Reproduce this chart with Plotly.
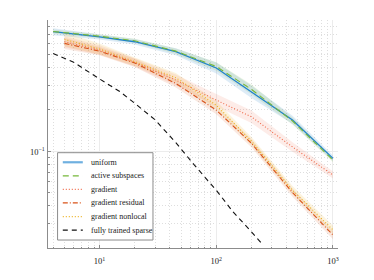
import math
import plotly.graph_objects as go

# ---- data ----
x_main = [4, 10, 20, 45, 100, 200, 450, 1000]
uniform = [0.733, 0.673, 0.62, 0.525, 0.40, 0.269, 0.168, 0.0885]
uniform_sd = [0.025, 0.02, 0.02, 0.025, 0.04, 0.045, 0.03, 0.02]
active = [0.735, 0.68, 0.63, 0.53, 0.41, 0.28, 0.165, 0.086]
active_sd = [0.015, 0.015, 0.015, 0.02, 0.03, 0.035, 0.025, 0.015]

x_grad = [5, 10, 20, 45, 100, 200, 450, 1000]
gradient = [0.62, 0.54, 0.44, 0.327, 0.234, 0.177, 0.107, 0.067]
gradient_sd = [0.04, 0.035, 0.03, 0.04, 0.045, 0.045, 0.035, 0.025]
residual = [0.603, 0.53, 0.435, 0.309, 0.198, 0.114, 0.050, 0.0246]
residual_sd = [0.04, 0.03, 0.03, 0.03, 0.03, 0.03, 0.03, 0.03]
nonlocal_ = [0.644, 0.55, 0.445, 0.34, 0.215, 0.118, 0.052, 0.0268]
nonlocal_sd = [0.05, 0.04, 0.03, 0.035, 0.03, 0.03, 0.03, 0.03]

x_sparse = [4, 6, 10, 15, 20, 30, 45, 65, 100, 140, 200, 250]
sparse = [0.51, 0.44, 0.333, 0.269, 0.222, 0.168, 0.115, 0.079, 0.052, 0.036, 0.026, 0.021]

x_ticks = [10, 100, 1000]
x_ticklabels = ["10<sup>1</sup>", "10<sup>2</sup>", "10<sup>3</sup>"]
y_ticks = [0.1]
y_ticklabels = ["10<sup>\u22121</sup>"]

FONT = "Liberation Serif"

series = [
    ("uniform", x_main, uniform, uniform_sd, "#1f82cc", "solid", 1.3, "rgba(31,130,204,0.15)"),
    ("active subspaces", x_main, active, active_sd, "#76b83a", "6px,4px", 1.1, "rgba(118,184,58,0.15)"),
    ("gradient", x_grad, gradient, gradient_sd, "#f06a4a", "1px,2px", 1.1, "rgba(240,106,74,0.13)"),
    ("gradient residual", x_grad, residual, residual_sd, "#D95319", "5px,2px,1px,2px", 1.1, "rgba(217,83,25,0.13)"),
    ("gradient nonlocal", x_grad, nonlocal_, nonlocal_sd, "#EDB120", "1px,2px", 1.1, "rgba(237,177,32,0.15)"),
]
sparse_style = ("fully trained sparse", "#111111", "5px,4px", 1.1)

fig = go.Figure()

# bands first
for name, xs, ys, sd, col, dash, w, fillcol in series:
    up = [v * 10 ** s for v, s in zip(ys, sd)]
    lo = [v * 10 ** (-s) for v, s in zip(ys, sd)]
    fig.add_trace(go.Scatter(x=xs + xs[::-1], y=up + lo[::-1], fill="toself",
                             fillcolor=fillcol, line=dict(width=0), mode="lines",
                             showlegend=False, hoverinfo="skip"))

for name, xs, ys, sd, col, dash, w, fillcol in series:
    fig.add_trace(go.Scatter(x=xs, y=ys, mode="lines", name=name, showlegend=False,
                             line=dict(color=col, dash=dash, width=w)))

fig.add_trace(go.Scatter(x=x_sparse, y=sparse, mode="lines", name=sparse_style[0],
                         showlegend=False,
                         line=dict(color=sparse_style[1], dash=sparse_style[2],
                                   width=sparse_style[3])))

# ---- compact legend box (paper coordinates) ----
leg_entries = [(s[0], s[4], s[5], s[6]) for s in series] + [sparse_style]
box_x0, box_x1, box_y0, box_y1 = 0.033, 0.362, 0.035, 0.418
row_top, row_step = 0.376, 0.0595
line_x0, line_x1, text_x = 0.051, 0.12, 0.142

shapes = [dict(type="rect", xref="paper", yref="paper", x0=box_x0, x1=box_x1,
               y0=box_y0, y1=box_y1, fillcolor="white",
               line=dict(color="#8c8c8c", width=1), layer="above")]
annotations = []
for i, (name, col, dash, w) in enumerate(leg_entries):
    yy = row_top - i * row_step
    lw = 2.2 if i == 0 else w + 0.2
    lc = "#6fb0e0" if i == 0 else col
    shapes.append(dict(type="line", xref="paper", yref="paper", x0=line_x0, x1=line_x1,
                       y0=yy, y1=yy, line=dict(color=lc, dash=dash, width=lw),
                       layer="above"))
    annotations.append(dict(xref="paper", yref="paper", x=text_x, y=yy, text=name,
                            showarrow=False, xanchor="left", yanchor="middle",
                            font=dict(family=FONT, size=8, color="#222")))

# y tick label(s) as annotations placed at the tick value
for tv, tt in zip(y_ticks, y_ticklabels):
    annotations.append(dict(xref="paper", yref="y", x=0, y=math.log10(tv), text=tt,
                            showarrow=False, xanchor="right", yanchor="middle",
                            xshift=-1, font=dict(family=FONT, size=8.5, color="#222")))

axis_common = dict(
    type="log", showline=True, linecolor="#8c8c8c", linewidth=1,
    showgrid=True, gridcolor="#ececec", gridwidth=1,
    ticks="inside", ticklen=3, tickcolor="#8c8c8c", tickwidth=0.8,
    zeroline=False, tickfont=dict(family=FONT, size=8.5, color="#222"),
    minor=dict(dtick="D1", showgrid=True, gridcolor="#dedede", griddash="1px,2px",
               gridwidth=0.7, ticks="inside", ticklen=1.5, tickcolor="#8c8c8c"),
    mirror=False,
)

# page body has an 8px default margin: figure sized/offset so the plot area
# sits at the same window position as the reference
fig.update_layout(
    width=366, height=272,
    margin=dict(l=40, r=36, t=12, b=32),
    paper_bgcolor="white", plot_bgcolor="white",
    font=dict(family=FONT, size=8, color="#222"),
    showlegend=False,
    shapes=shapes, annotations=annotations,
)
fig.update_xaxes(**axis_common, range=[0.558, 3.043], dtick=1,
                 tickmode="array", tickvals=x_ticks, ticktext=x_ticklabels,
                 ticklabelstandoff=5)
fig.update_yaxes(**axis_common, range=[-1.703, -0.05], dtick=1,
                 tickmode="array", tickvals=y_ticks, ticktext=["" for _ in y_ticks])

fig.write_html("out.html")
